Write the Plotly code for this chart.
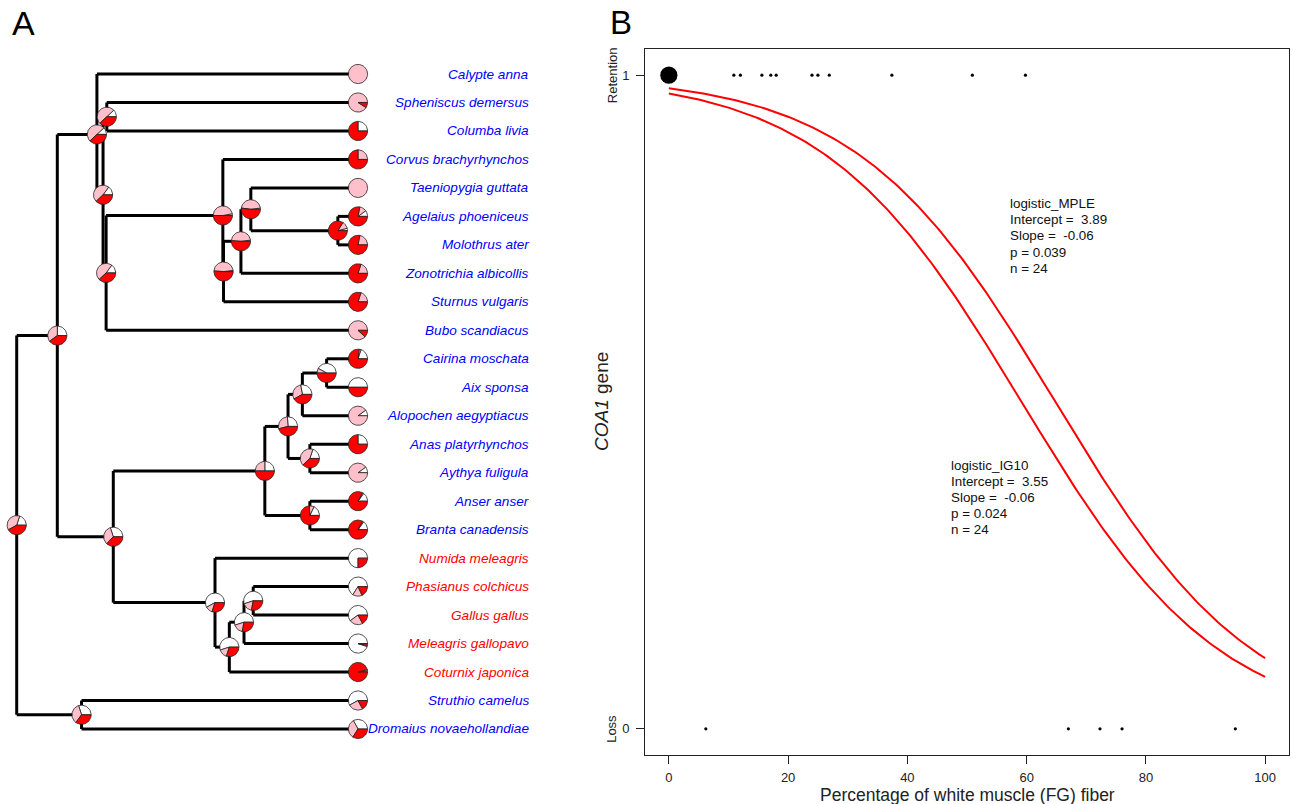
import numpy as np
import plotly.graph_objects as go

# ---------------- Panel A data ----------------
tip_labels = ["Calypte anna", "Spheniscus demersus", "Columba livia", "Corvus brachyrhynchos",
              "Taeniopygia guttata", "Agelaius phoeniceus", "Molothrus ater", "Zonotrichia albicollis",
              "Sturnus vulgaris", "Bubo scandiacus", "Cairina moschata", "Aix sponsa",
              "Alopochen aegyptiacus", "Anas platyrhynchos", "Aythya fuligula", "Anser anser",
              "Branta canadensis", "Numida meleagris", "Phasianus colchicus", "Gallus gallus",
              "Meleagris gallopavo", "Coturnix japonica", "Struthio camelus", "Dromaius novaehollandiae"]
galliform_tips = ["Numida meleagris", "Phasianus colchicus", "Gallus gallus",
                  "Meleagris gallopavo", "Coturnix japonica"]
# state probabilities at tips: white, pink, red
tip_white = [0, 0, 0.25, 0, 0, 0.10, 0, 0, 0, 0, 0.20, 0.50, 0.10, 0.25, 0.10, 0.15, 0.15,
             0.75, 0.66, 0.60, 0.95, 0.02, 0.58, 0.33]
tip_pink = [1, 0.91, 0, 0.25, 1, 0.12, 0.22, 0.20, 0.20, 0.88, 0.03, 0, 0.90, 0, 0.90, 0.02, 0.02,
            0, 0.16, 0.23, 0.02, 0.02, 0.25, 0.33]
tip_red = [0, 0.09, 0.75, 0.75, 0, 0.78, 0.78, 0.80, 0.80, 0.12, 0.77, 0.50, 0, 0.75, 0, 0.83, 0.83,
           0.25, 0.18, 0.17, 0.03, 0.96, 0.17, 0.34]

node_names = ["root", "Neognathae", "Palaeognathae", "Neoaves", "n195", "n117", "n272",
              "Passeriformes", "n272b", "n241", "n209", "n230", "Galloanserae", "Anseriformes",
              "n427", "n395", "n373", "n458", "n515", "Galliformes", "n647", "n622", "n601"]
node_children = [["Neognathae", "Palaeognathae"],
                 ["Neoaves", "Galloanserae"],
                 ["Struthio camelus", "Dromaius novaehollandiae"],
                 ["Calypte anna", "n195"],
                 ["n117", "n272"],
                 ["Spheniscus demersus", "Columba livia"],
                 ["Passeriformes", "Bubo scandiacus"],
                 ["Corvus brachyrhynchos", "n272b"],
                 ["n241", "Sturnus vulgaris"],
                 ["n209", "Zonotrichia albicollis"],
                 ["Taeniopygia guttata", "n230"],
                 ["Agelaius phoeniceus", "Molothrus ater"],
                 ["Anseriformes", "Galliformes"],
                 ["n427", "n515"],
                 ["n395", "n458"],
                 ["n373", "Alopochen aegyptiacus"],
                 ["Cairina moschata", "Aix sponsa"],
                 ["Anas platyrhynchos", "Aythya fuligula"],
                 ["Anser anser", "Branta canadensis"],
                 ["Numida meleagris", "n647"],
                 ["n622", "Coturnix japonica"],
                 ["n601", "Meleagris gallopavo"],
                 ["Phasianus colchicus", "Gallus gallus"]]
node_depth = [0, 11.9, 19.0, 23.5, 25.3, 26.4, 26.2, 60.4, 60.6, 65.7, 68.6, 94.1, 28.3, 72.7,
              79.5, 83.7, 90.8, 85.9, 85.9, 58.1, 62.3, 66.6, 69.3]
tip_depth = 100.0
node_white = [0.20, 0.25, 0.30, 0.12, 0.15, 0.12, 0.15, 0.03, 0.02, 0.02, 0.02, 0.04, 0.30, 0.25,
              0.26, 0.28, 0.42, 0.20, 0.18, 0.58, 0.55, 0.55, 0.55]
node_pink = [0.38, 0.35, 0.35, 0.50, 0.47, 0.50, 0.47, 0.47, 0.47, 0.47, 0.46, 0.12, 0.33, 0.25,
             0.28, 0.30, 0.08, 0.42, 0.08, 0.12, 0.15, 0.17, 0.17]
node_red = [0.42, 0.40, 0.35, 0.38, 0.38, 0.38, 0.38, 0.50, 0.51, 0.51, 0.52, 0.84, 0.37, 0.50,
            0.46, 0.42, 0.50, 0.38, 0.74, 0.30, 0.30, 0.28, 0.28]

# ---------------- Panel B data ----------------
fg_retained = [0, 0, 0, 0, 0, 0, 0, 0, 10.9, 12.0, 15.6, 17.1, 18.0, 24.0, 25.0, 26.9,
               37.4, 50.9, 59.8]
fg_lost = [6.2, 67.0, 72.3, 76.0, 95.0]
model_names = ["logistic_MPLE", "logistic_IG10"]
model_intercept = [3.89, 3.55]
model_slope = [-0.06, -0.06]
model_p = ["0.039", "0.024"]
model_n = [24, 24]

# ---------------- layout geometry ----------------
W, H = 1293, 804
FONT = "Liberation Sans, Arial"
A_X0_PX, A_TIP_PX = 16.7, 358.0          # pixel of depth 0 / tip depth
A_Y0_PX, A_STEP_PX = 74.0, 28.478        # pixel of tip 1, spacing
A_RIGHT_PX = 560.0
KX = (A_TIP_PX - A_X0_PX) / tip_depth    # px per depth unit
KY = A_STEP_PX                            # px per tip index
ax_range = [(0 - A_X0_PX) / KX, (A_RIGHT_PX - A_X0_PX) / KX]
ay_range = [1 + (H - A_Y0_PX) / KY, 1 - A_Y0_PX / KY]
LABEL_X = (531.0 - A_X0_PX) / KX
PIE_R = 9.6

B_L, B_R, B_T, B_B = 645.0, 1289.0, 49.0, 755.0
B_YRANGE = [-0.04, 1.04]
B_KY = (B_B - B_T) / (B_YRANGE[1] - B_YRANGE[0])   # px per y unit

# ---------------- tree geometry ----------------
pos = {}
for i, t in enumerate(tip_labels):
    pos[t] = (tip_depth, i + 1.0)
depth_of = dict(zip(node_names, node_depth))
children_of = dict(zip(node_names, node_children))


def node_y(n):
    if n in pos:
        return pos[n][1]
    ys = [node_y(c) for c in children_of[n]]
    y = (ys[0] + ys[-1]) / 2
    pos[n] = (depth_of[n], y)
    return y


node_y("root")

lx, ly = [], []
for n in node_names:
    x, y = pos[n]
    cy = [pos[c][1] for c in children_of[n]]
    lx += [x, x, None]
    ly += [min(cy), max(cy), None]
    for c in children_of[n]:
        lx += [x, pos[c][0], None]
        ly += [pos[c][1], pos[c][1], None]

fig = go.Figure()
fig.add_trace(go.Scatter(x=lx, y=ly, mode="lines", line=dict(color="black", width=3),
                         hoverinfo="skip", showlegend=False, xaxis="x", yaxis="y"))

pie_cols = ["#FFFFFF", "#FFC0CB", "#FF0000"]


def add_pie(cx, cy, fracs):
    tot = sum(fracs)
    a0 = 0.0
    for f, col in zip(fracs, pie_cols):
        if f <= 0:
            continue
        a1 = a0 + 2 * np.pi * f / tot
        nseg = max(3, int(80 * f / tot))
        t = np.linspace(a0, a1, nseg)
        px = cx + PIE_R * np.cos(t) / KX
        py = cy - PIE_R * np.sin(t) / KY
        if f / tot >= 0.999:
            xs, ys = list(px), list(py)
        else:
            xs = [cx] + list(px) + [cx]
            ys = [cy] + list(py) + [cy]
        fig.add_trace(go.Scatter(x=xs, y=ys, mode="lines", fill="toself", fillcolor=col,
                                 line=dict(color="#222222", width=0.8), hoverinfo="skip",
                                 showlegend=False, xaxis="x", yaxis="y"))
        a0 = a1


for i, t in enumerate(tip_labels):
    add_pie(pos[t][0], pos[t][1], [tip_white[i], tip_pink[i], tip_red[i]])
for i, n in enumerate(node_names):
    add_pie(pos[n][0], pos[n][1], [node_white[i], node_pink[i], node_red[i]])

annotations = []
for t in tip_labels:
    annotations.append(dict(x=LABEL_X, y=pos[t][1], xref="x", yref="y", text="<i>%s</i>" % t,
                            showarrow=False, xanchor="right", yanchor="middle",
                            font=dict(family=FONT, size=13.6,
                                      color="#FF0000" if t in galliform_tips else "#0000FF")))

# ---------------- Panel B ----------------
xs_curve = np.linspace(0, 100, 201)
for a, b in zip(model_intercept, model_slope):
    fig.add_trace(go.Scatter(x=xs_curve, y=1 / (1 + np.exp(-(a + b * xs_curve))), mode="lines",
                             line=dict(color="#FF0000", width=2), hoverinfo="skip",
                             showlegend=False, xaxis="x2", yaxis="y2"))

for vals, yv in [(fg_retained, 1), (fg_lost, 0)]:
    ux, cnt = np.unique(np.array(vals), return_counts=True)
    fig.add_trace(go.Scatter(x=ux, y=[yv] * len(ux), mode="markers",
                             marker=dict(color="#000000", opacity=1, size=3.2 + 2 * (cnt - 1),
                                         line=dict(width=0)),
                             opacity=1, hoverinfo="skip", showlegend=False, xaxis="x2", yaxis="y2"))

# stats text blocks: left x, centre y (data units), drawn one line at a time
stat_pos = [(57.1, 0.754), (47.2, 0.354)]
LINE_PX = 16.2
for i, nm in enumerate(model_names):
    lines = [nm,
             "Intercept = \u00a0%.2f" % model_intercept[i],
             "Slope = \u00a0%.2f" % model_slope[i],
             "p = %s" % model_p[i],
             "n = %d" % model_n[i]]
    for k, ln in enumerate(lines):
        yk = stat_pos[i][1] + (2 - k) * LINE_PX / B_KY
        annotations.append(dict(x=stat_pos[i][0], y=yk, xref="x2", yref="y2", text=ln,
                                showarrow=False, xanchor="left", yanchor="middle", align="left",
                                borderpad=0,
                                font=dict(family=FONT, size=13.4, color="#111")))

annotations += [
    dict(x=612 / W, y=1, xref="paper", yref="y2", text="Retention", textangle=-90, showarrow=False,
         xanchor="center", yanchor="middle", font=dict(family=FONT, size=13, color="#222")),
    dict(x=612 / W, y=0, xref="paper", yref="y2", text="Loss", textangle=-90, showarrow=False,
         xanchor="center", yanchor="middle", font=dict(family=FONT, size=13, color="#222")),
    dict(x=601 / W, y=0.5, xref="paper", yref="y2", text="<i>COA1</i> gene", textangle=-90,
         xanchor="center", yanchor="middle",
         showarrow=False, font=dict(family=FONT, size=19, color="#222")),
    dict(x=50, y=(H - 794.5) / H, xref="x2", yref="paper", text="Percentage of white muscle (FG) fiber",
         showarrow=False, xanchor="center", yanchor="middle", borderpad=0,
         font=dict(family=FONT, size=17.5, color="#222")),
    dict(x=23.5 / W, y=(H - 22.5) / H, xref="paper", yref="paper", text="A", showarrow=False,
         xanchor="center", yanchor="middle", font=dict(family=FONT, size=34, color="black")),
    dict(x=621 / W, y=(H - 23) / H, xref="paper", yref="paper", text="B", showarrow=False,
         xanchor="center", yanchor="middle", font=dict(family=FONT, size=33, color="black")),
]

fig.update_layout(
    width=W, height=H, autosize=False,
    margin=dict(l=0, r=0, t=0, b=0),
    paper_bgcolor="white", plot_bgcolor="white",
    showlegend=False,
    annotations=annotations,
    xaxis=dict(domain=[0, A_RIGHT_PX / W], range=ax_range, visible=False, fixedrange=True),
    yaxis=dict(domain=[0, 1], range=ay_range, visible=False, fixedrange=True),
    xaxis2=dict(domain=[B_L / W, B_R / W], range=[-4, 104], anchor="y2",
                tickvals=[0, 20, 40, 60, 80, 100], ticks="outside", ticklen=8, tickwidth=1,
                tickcolor="#222", showline=True, linecolor="#222", linewidth=1, mirror=True,
                showgrid=False, zeroline=False, ticklabelstandoff=2,
                tickfont=dict(family=FONT, size=13, color="#222")),
    yaxis2=dict(domain=[(H - B_B) / H, (H - B_T) / H], range=B_YRANGE, anchor="x2",
                tickvals=[0, 1], ticktext=["0", "1"], ticks="outside", ticklen=8, tickwidth=1,
                tickcolor="#222", showline=True, linecolor="#222", linewidth=1, mirror=True,
                showgrid=False, zeroline=False, ticklabelstandoff=4,
                tickfont=dict(family=FONT, size=13, color="#222")),
)

fig.write_html("out.html", config={"displayModeBar": False},
               post_script="document.body.style.margin='0';")
